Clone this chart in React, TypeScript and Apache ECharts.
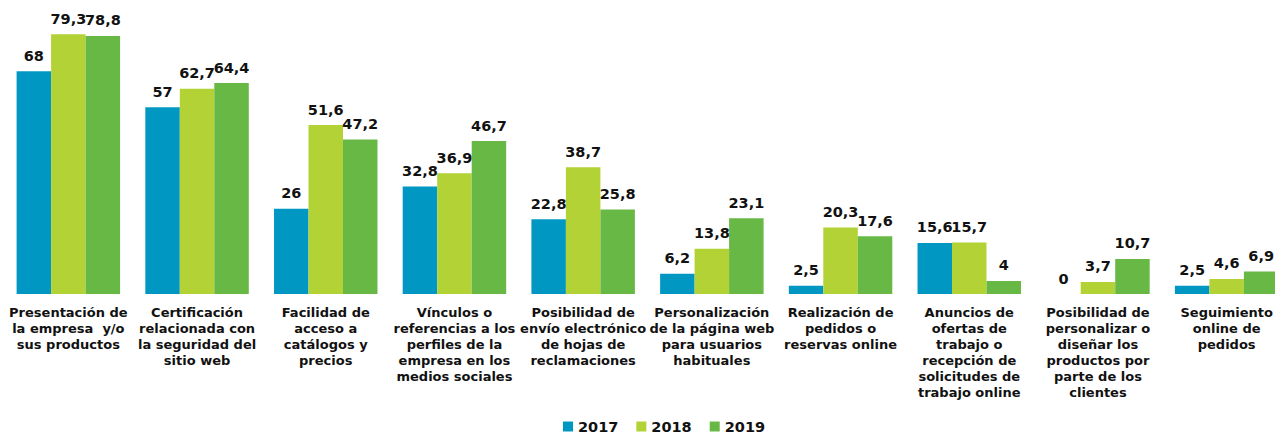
import React, { useEffect, useRef } from "react";
import * as echarts from "echarts";

const categories: string[] = [
  "Presentación de\nla empresa  y/o\nsus productos",
  "Certificación\nrelacionada con\nla seguridad del\nsitio web",
  "Facilidad de\nacceso a\ncatálogos y\nprecios",
  "Vínculos o\nreferencias a los\nperfiles de la\nempresa en los\nmedios sociales",
  "Posibilidad de\nenvío electrónico\nde hojas de\nreclamaciones",
  "Personalización\nde la página web\npara usuarios\nhabituales",
  "Realización de\npedidos o\nreservas online",
  "Anuncios de\nofertas de\ntrabajo o\nrecepción de\nsolicitudes de\ntrabajo online",
  "Posibilidad de\npersonalizar o\ndiseñar los\nproductos por\nparte de los\nclientes",
  "Seguimiento\nonline de\npedidos",
];

const seriesNames: string[] = ["2017", "2018", "2019"];
const values2017: number[] = [68, 57, 26, 32.8, 22.8, 6.2, 2.5, 15.6, 0, 2.5];
const values2018: number[] = [79.3, 62.7, 51.6, 36.9, 38.7, 13.8, 20.3, 15.7, 3.7, 4.6];
const values2019: number[] = [78.8, 64.4, 47.2, 46.7, 25.8, 23.1, 17.6, 4, 10.7, 6.9];
const colors: string[] = ["#0098c3", "#b2d235", "#68b846"];

const FONT = "'DejaVu Sans', Verdana, sans-serif";

export default function App() {
  const ref = useRef<HTMLDivElement>(null);
  useEffect(() => {
    if (!ref.current) return;
    const chart = echarts.init(ref.current, undefined, { renderer: "svg" });
    const allData = [values2017, values2018, values2019];
    chart.setOption({
      animation: false,
      color: colors,
      grid: { left: 4, top: 32, width: 1287, bottom: 139, containLabel: false },
      legend: {
        top: 414,
        left: 558,
        itemWidth: 10,
        itemHeight: 10,
        itemGap: 18,
        icon: "rect",
        textStyle: { fontFamily: FONT, fontWeight: "bold", fontSize: 14.5, color: "#111" },
        data: seriesNames,
      },
      xAxis: {
        type: "category",
        data: categories,
        axisLine: { show: false },
        axisTick: { show: false },
        axisLabel: {
          interval: 0,
          margin: 10,
          fontFamily: FONT,
          fontWeight: "bold",
          fontSize: 13,
          lineHeight: 16,
          color: "#111",
          align: "center",
        },
      },
      yAxis: {
        type: "value",
        min: 0,
        max: 80,
        show: false,
        splitLine: { show: false },
      },
      series: seriesNames.map((name, i) => ({
        name,
        type: "bar",
        data: allData[i],
        barGap: "0%",
        barCategoryGap: "19.6%",
        itemStyle: { color: colors[i] },
        label: {
          show: true,
          position: "top",
          distance: 8,
          fontFamily: FONT,
          fontWeight: "bold",
          fontSize: 14.5,
          color: "#111",
          formatter: (p: any) => String(p.value).replace(".", ","),
        },
      })),
    });
    return () => chart.dispose();
  }, []);
  return (
    <div
      ref={ref}
      style={{ position: "fixed", left: 0, top: 0, width: 1300, height: 433, background: "#fff" }}
    />
  );
}
